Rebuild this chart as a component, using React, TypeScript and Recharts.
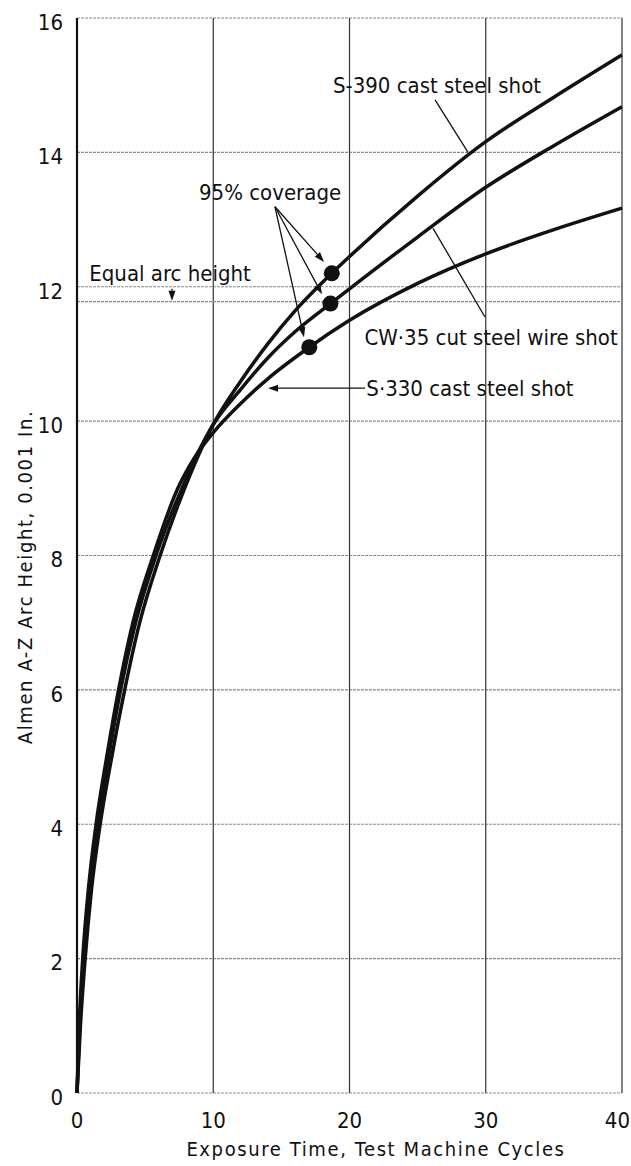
import React from "react";
import {
  CartesianGrid,
  ComposedChart,
  Line,
  ReferenceDot,
  ReferenceLine,
  Scatter,
  XAxis,
  YAxis,
} from "recharts";

// [exposure cycles, arc height 0.001 in.]
const s390: [number, number][] = [
  [0, 0], [0.25, 1], [0.6, 2], [1.05, 3], [1.7, 4], [2.55, 5], [3.5, 6], [4.6, 7],
  [6.1, 8], [7.9, 9], [10, 9.95], [12, 10.59], [14, 11.15], [16, 11.64],
  [18.7, 12.2], [20, 12.45], [25, 13.35], [30, 14.16], [35, 14.82], [40, 15.45],
];
const cw35: [number, number][] = [
  [0, 0], [0.2, 1], [0.5, 2], [0.92, 3], [1.52, 4], [2.32, 5], [3.2, 6], [4.3, 7],
  [5.8, 8], [7.7, 9], [10, 9.95], [12, 10.47], [14, 10.94], [16, 11.33],
  [18.6, 11.75], [20, 11.97], [25, 12.74], [30, 13.48], [35, 14.1], [40, 14.68],
];
const s330: [number, number][] = [
  [0, 0], [0.16, 1], [0.42, 2], [0.82, 3], [1.4, 4], [2.18, 5], [3.05, 6], [4.1, 7],
  [5.6, 8], [7.4, 9], [8.6, 9.45], [10, 9.83], [12, 10.26], [14, 10.63], [17.05, 11.1],
  [20, 11.5], [25, 12.05], [30, 12.49], [35, 12.85], [40, 13.17],
];
// 95% coverage points
const coverage: [number, number][] = [
  [18.7, 12.2],
  [18.6, 11.75],
  [17.05, 11.1],
];
const equalArcHeight = 11.78;

const xTicks = [0, 10, 20, 30, 40];
const yTicks = [0, 2, 4, 6, 8, 10, 12, 14, 16];

const toPts = (arr: [number, number][]) => arr.map(([x, y]) => ({ x, y }));

const FONT = "'DejaVu Sans Condensed', 'Liberation Sans Narrow', sans-serif";
const INK = "#111";

const leader = (head: boolean) => (p: any) => {
  const { x1, y1, x2, y2 } = p;
  const ang = Math.atan2(y2 - y1, x2 - x1);
  const L = 10;
  const W = 3.5;
  const bx = x2 - L * Math.cos(ang);
  const by = y2 - L * Math.sin(ang);
  const nx = -Math.sin(ang) * W;
  const ny = Math.cos(ang) * W;
  return (
    <g>
      <line x1={x1} y1={y1} x2={head ? bx : x2} y2={head ? by : y2} stroke={INK} strokeWidth={1.3} />
      {head && (
        <polygon points={`${x2},${y2} ${bx + nx},${by + ny} ${bx - nx},${by - ny}`} fill={INK} />
      )}
    </g>
  );
};

const note = (text: string) => (p: any) => (
  <text
    x={p.cx}
    y={p.cy}
    textAnchor="middle"
    dominantBaseline="central"
    fontFamily={FONT}
    fontSize={22}
    fill={INK}
  >
    {text}
  </text>
);

const seg = (a: [number, number], b: [number, number]) => [
  { x: a[0], y: a[1] },
  { x: b[0], y: b[1] },
];

const XTick = (p: any) => {
  const last = p.payload.value === 40;
  return (
    <text
      x={last ? p.x + 8 : p.x}
      y={p.y}
      dy="0.71em"
      textAnchor={last ? "end" : "middle"}
      fontFamily={FONT}
      fontSize={22}
      fill={INK}
    >
      {p.payload.value}
    </text>
  );
};

export default function App() {
  return (
    <div style={{ position: "absolute", left: 0, top: 0, background: "#fff" }}>
      <ComposedChart width={631} height={1166} margin={{ top: 18, right: 9, bottom: 0, left: 0 }}>
        <CartesianGrid vertical={false} stroke="#8a8a8a" strokeDasharray="3 1" strokeWidth={1.2} />
        <CartesianGrid horizontal={false} stroke="#333" strokeWidth={1.2} />
        <XAxis
          type="number"
          dataKey="x"
          domain={[0, 40]}
          ticks={xTicks}
          axisLine={false}
          tickLine={false}
          tickSize={0}
          tickMargin={19}
          height={73}
          tick={<XTick />}
          label={{
            content: () => (
              <text x={376} y={1156} textAnchor="middle" fontFamily={FONT} fontSize={20} letterSpacing={1.6} fill={INK}>
                Exposure Time, Test Machine Cycles
              </text>
            ),
          }}
        />
        <YAxis
          type="number"
          dataKey="y"
          domain={[0, 16]}
          ticks={yTicks}
          width={77}
          axisLine={{ stroke: INK, strokeWidth: 2.2 }}
          tickLine={false}
          tickSize={0}
          tickMargin={14}
          tick={{ fontFamily: FONT, fontSize: 22, fill: INK, dy: 4 }}
          label={{
            content: () => (
              <text
                x={25}
                y={577}
                transform="rotate(-90 25 577)"
                textAnchor="middle"
                dominantBaseline="central"
                fontFamily={FONT}
                fontSize={20}
                letterSpacing={1.6}
                fill={INK}
              >
                Almen A-Z Arc Height, 0.001 In.
              </text>
            ),
          }}
        />

        <ReferenceLine y={equalArcHeight} stroke="#8a8a8a" strokeDasharray="3 1" strokeWidth={1.2} />

        <Line data={toPts(s390)} dataKey="y" type="monotone" stroke={INK} strokeWidth={3.5} dot={false} isAnimationActive={false} />
        <Line data={toPts(cw35)} dataKey="y" type="monotone" stroke={INK} strokeWidth={3.5} dot={false} isAnimationActive={false} />
        <Line data={toPts(s330)} dataKey="y" type="monotone" stroke={INK} strokeWidth={3.5} dot={false} isAnimationActive={false} />
        <Scatter
          data={toPts(coverage)}
          isAnimationActive={false}
          shape={(p: any) => <circle cx={p.cx} cy={p.cy} r={8} fill={INK} />}
        />

        {/* 95% coverage arrows */}
        <ReferenceLine segment={seg([14.53, 13.19], [18.13, 12.37])} shape={leader(true)} />
        <ReferenceLine segment={seg([14.53, 13.19], [17.98, 11.89])} shape={leader(true)} />
        <ReferenceLine segment={seg([14.53, 13.19], [16.66, 11.25])} shape={leader(true)} />
        {/* curve labels */}
        <ReferenceLine segment={seg([26.28, 14.78], [28.7, 14.0])} shape={leader(false)} />
        <ReferenceLine segment={seg([29.94, 11.55], [26.13, 12.87])} shape={leader(false)} />
        <ReferenceLine segment={seg([21.14, 10.49], [14.02, 10.49])} shape={leader(true)} />
        <ReferenceLine segment={seg([6.97, 11.97], [6.97, 11.79])} shape={leader(true)} />

        <ReferenceDot x={14.17} y={13.41} r={0} shape={note("95% coverage")} />
        <ReferenceDot x={26.42} y={15.0} r={0} shape={note("S-390 cast steel shot")} />
        <ReferenceDot x={30.39} y={11.24} r={0} shape={note("CW·35 cut steel wire shot")} />
        <ReferenceDot x={28.84} y={10.49} r={0} shape={note("S·330 cast steel shot")} />
        <ReferenceDot x={6.83} y={12.2} r={0} shape={note("Equal arc height")} />
      </ComposedChart>
    </div>
  );
}
